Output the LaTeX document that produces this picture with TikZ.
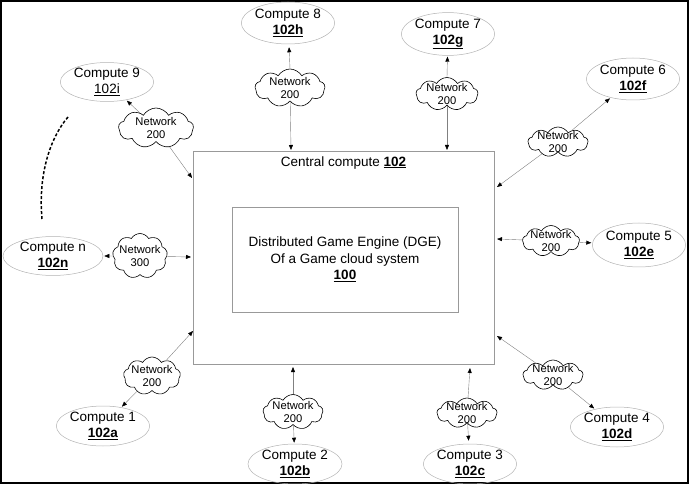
\documentclass[tikz,border=0pt]{standalone}
\usepackage{fontspec}
\setmainfont{Liberation Sans}
\usetikzlibrary{shapes.geometric, shapes.symbols, arrows.meta}

\begin{document}
\begin{tikzpicture}[x=1pt, y=-1pt,
    compute/.style={ellipse, draw=gray!60, line width=0.5pt, minimum width=92pt, minimum height=40pt,
        inner sep=0pt, align=center, font=\fontsize{13.5}{16}\selectfont},
    net/.style={cloud, draw, cloud puffs=9, cloud puff arc=120, aspect=2, inner sep=0pt, line width=0.6pt},
    nettext/.style={align=center, inner sep=0pt, font=\fontsize{11.2}{13}\selectfont},
    link/.style={draw=gray, line width=0.4pt, -{Triangle[length=5pt, width=4pt, color=black]}}]
    \useasboundingbox (0,0) rectangle (689,484);
    \draw[line width=2pt] (1,1) rectangle (688,483);
    % central compute and the engine
    \node[draw=gray!80, line width=0.5pt, minimum width=301pt, minimum height=213pt,
        label={[anchor=north, yshift=-2pt, font=\fontsize{13.5}{16}\selectfont]north:Central compute \underline{\textbf{102}}}]
        (central) at (343.5,257.5) {};
    \node[draw=gray!80, line width=0.5pt, minimum width=226pt, minimum height=105pt, align=center,
        font=\fontsize{13.5}{16.5}\selectfont] (dge) at (345,259.5)
        {Distributed Game Engine (DGE)\\Of a Game cloud system\\\underline{\textbf{100}}};
    % computes
    \node[compute] (c1) at (103,426) {Compute 1\\\underline{\textbf{102a}}};
    \node[compute, minimum width=94pt] (c2) at (295,464) {Compute 2\\\underline{\textbf{102b}}};
    \node[compute, minimum width=93pt] (c3) at (470,464) {Compute 3\\\underline{\textbf{102c}}};
    \node[compute] (c4) at (617,427) {Compute 4\\\underline{\textbf{102d}}};
    \node[compute, minimum width=90pt, minimum height=44pt] (c5) at (639,245) {Compute 5\\\underline{\textbf{102e}}};
    \node[compute, minimum height=42pt] (c6) at (633,79) {Compute 6\\\underline{\textbf{102f}}};
    \node[compute, minimum height=42pt] (c7) at (448,34) {Compute 7\\\underline{\textbf{102g}}};
    \node[compute, minimum width=91pt, minimum height=42pt] (c8) at (288,23) {Compute 8\\\underline{\textbf{102h}}};
    \node[compute, minimum height=37pt] (c9) at (107,82) {Compute 9\\\underline{102i}};
    \node[compute, minimum width=100pt, minimum height=38pt] (cn) at (53,256) {Compute n\\\underline{\textbf{102n}}};
    % networks
    \node[net, minimum width=57pt, minimum height=38pt, label={[nettext]center:{Network\\200}}] (n1) at (152,376) {};
    \node[net, minimum width=60pt, minimum height=35pt, label={[nettext]center:{Network\\200}}] (n2) at (293,412) {};
    \node[net, minimum width=60pt, minimum height=30pt, label={[nettext]center:{Network\\200}}] (n3) at (467,413) {};
    \node[net, minimum width=60pt, minimum height=30pt, label={[nettext]center:{Network\\200}}] (n4) at (553,375) {};
    \node[net, minimum width=57pt, minimum height=31pt, label={[nettext]center:{Network\\200}}] (n5) at (551,241) {};
    \node[net, minimum width=60pt, minimum height=30pt, label={[nettext]center:{Network\\200}}] (n6) at (558,142) {};
    \node[net, minimum width=62pt, minimum height=33pt, label={[nettext]center:{Network\\200}}] (n7) at (447,94) {};
    \node[net, minimum width=70pt, minimum height=38pt, label={[nettext]center:{Network\\200}}] (n8) at (290,88) {};
    \node[net, minimum width=75pt, minimum height=40pt, label={[nettext]center:{Network\\200}}] (n9) at (156,128) {};
    \node[net, minimum width=55pt, minimum height=45pt, label={[nettext]center:{Network\\300}}] (nn) at (140,256) {};
    % where the links meet the central compute
    \coordinate (b1) at (193,331);
    \coordinate (b2) at (293,367);
    \coordinate (b3) at (470,368);
    \coordinate (b4) at (497,336);
    \coordinate (b5) at (497,239);
    \coordinate (b6) at (497,187);
    \coordinate (b7) at (447,150);
    \coordinate (b8) at (291,150);
    \coordinate (b9) at (192,178);
    \coordinate (bn) at (191,257);
    % links
    \draw[link] (n1) -- (b1);  \draw[link, shorten >=1pt] (n1) -- (c1);
    \draw[link] (n2) -- (b2);  \draw[link, shorten >=1pt] (n2) -- (c2);
    \draw[link] (n3) -- (b3);  \draw[link, shorten >=3pt] (n3) -- (c3);
    \draw[link] (n4) -- (b4);  \draw[link, shorten >=1pt] (n4) -- (c4);
    \draw[link] (n5) -- (b5);  \draw[link, shorten >=1pt] (n5) -- (c5);
    \draw[link] (n6) -- (b6);  \draw[link, shorten >=1pt] (n6) -- (c6);
    \draw[link] (n7) -- (b7);  \draw[link, shorten >=1pt] (n7.north) -- (c7);
    \draw[link] (n8) -- (b8);  \draw[link, shorten >=3pt] (n8.north) -- (c8);
    \draw[link] (n9) -- (b9);  \draw[link, shorten >=1pt] (n9) -- (c9);
    \draw[link] (nn) -- (bn);  \draw[link, shorten >=1pt] (nn) -- (cn);
    % more computes
    \draw[line width=1.5pt, dash pattern=on 3pt off 2pt] (68,117) .. controls (50,138) and (38,175) .. (42,219);
\end{tikzpicture}
\end{document}
